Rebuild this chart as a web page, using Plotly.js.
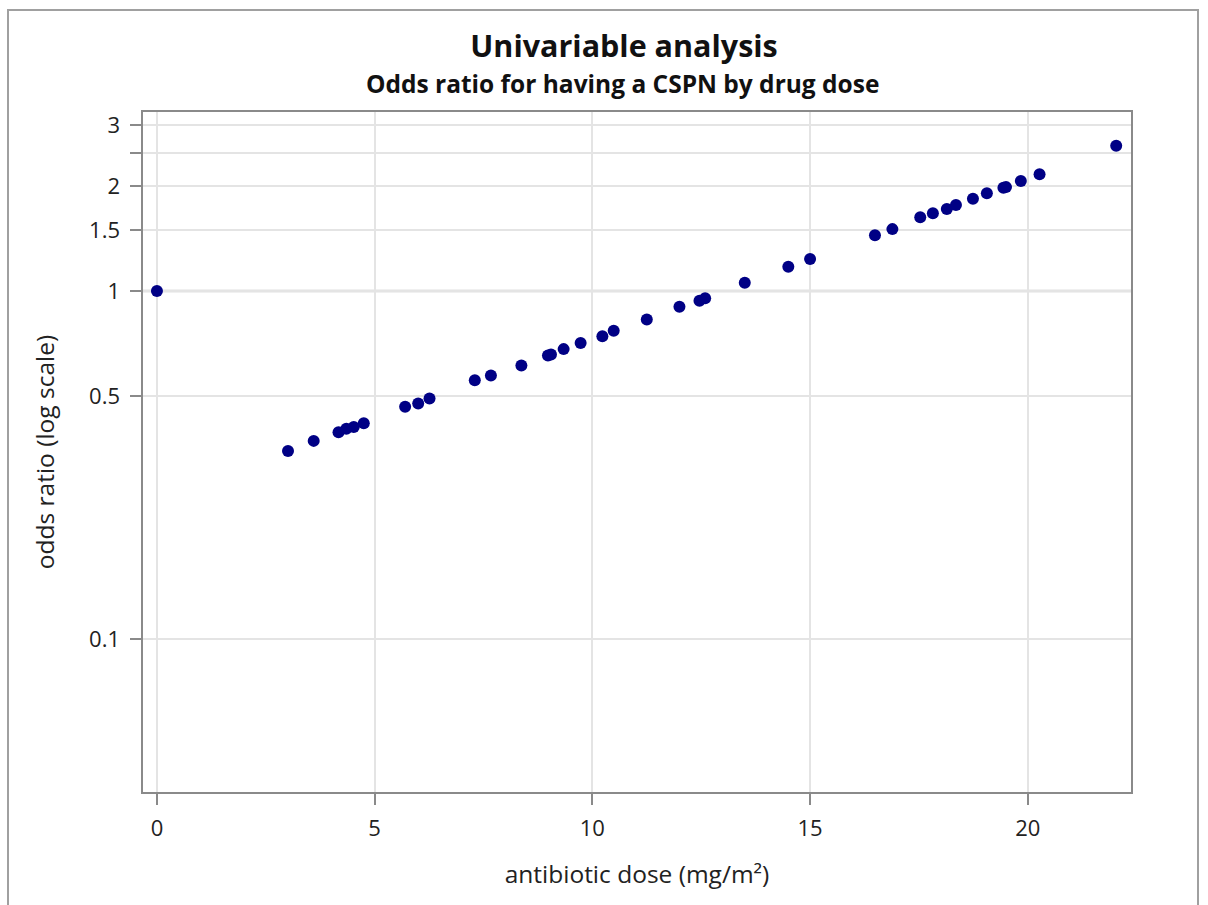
<!DOCTYPE html>
<html>
<head>
<meta charset="utf-8">
<script src="https://cdn.plot.ly/plotly-3.0.1.min.js"></script>
<style>
  html, body { margin: 0; padding: 0; background: #fff; }
  #wrap { position: relative; width: 1208px; height: 905px; overflow: hidden; }
  #chart { position: absolute; left: 0; top: 0; width: 1208px; height: 905px; }
  #frame { position: absolute; left: 7px; top: 9px; width: 1192px; height: 1000px;
           border: 2px solid #a0a0a0; pointer-events: none; box-sizing: border-box; }
</style>
</head>
<body>
<div id="wrap">
  <div id="chart"></div>
  <div id="frame"></div>
</div>
<script>
// Data
const dose = [0, 3.01, 3.60, 4.17, 4.35, 4.52, 4.75, 5.70, 6.00, 6.26, 7.30, 7.67, 8.37, 8.98, 9.05,
  9.34, 9.73, 10.23, 10.49, 11.25, 12.00, 12.46, 12.59, 13.50, 14.50, 15.00, 16.49, 16.89,
  17.53, 17.82, 18.14, 18.35, 18.74, 19.06, 19.44, 19.50, 19.84, 20.27, 22.03];
const oddsRatio = [1.0, 0.347, 0.371, 0.393, 0.402, 0.407, 0.417, 0.465, 0.475, 0.491, 0.554, 0.572, 0.611, 0.653, 0.657,
  0.681, 0.709, 0.742, 0.769, 0.829, 0.901, 0.938, 0.953, 1.057, 1.175, 1.236, 1.446, 1.507,
  1.629, 1.673, 1.721, 1.767, 1.843, 1.910, 1.982, 1.990, 2.072, 2.166, 2.618];
const xTicks = [0, 5, 10, 15, 20];
const yTicks = [0.1, 0.5, 1, 1.5, 2, 2.5, 3];
const yTickLabels = ['0.1', '0.5', '1', '1.5', '2', '', '3'];

const FONT = '"Open Sans", "Noto Sans", sans-serif';
const Y_RANGE = [-1.440, 0.5148];

const trace = {
  type: 'scatter',
  mode: 'markers',
  x: dose,
  y: oddsRatio,
  marker: { color: '#000085', size: 12, line: { width: 0 } },
  hoverinfo: 'x+y',
  showlegend: false
};
// empty helper trace so the label axis (y2) is created
const labelAxisTrace = {
  type: 'scatter', mode: 'markers', x: [], y: [], yaxis: 'y2',
  showlegend: false, hoverinfo: 'skip'
};

const layout = {
  width: 1208,
  height: 905,
  margin: { l: 143, r: 77, t: 112, b: 113 },
  paper_bgcolor: '#ffffff',
  plot_bgcolor: '#ffffff',
  font: { family: FONT, color: '#222222', size: 22 },
  title: {
    text: '<b>Univariable analysis</b>',
    font: { family: FONT, size: 30.5, color: '#111111' },
    x: 0.5166, xref: 'container', xanchor: 'center',
    y: 1, yref: 'container', yanchor: 'top', pad: { t: 36 }
  },
  annotations: [{
    text: '<b>Odds ratio for having a CSPN by drug dose</b>',
    font: { family: FONT, size: 24.5, color: '#111111' },
    xref: 'paper', yref: 'paper', x: 0.4858, y: 1.0412,
    xanchor: 'center', yanchor: 'middle', showarrow: false
  }],
  xaxis: {
    range: [-0.32, 22.37],
    tickvals: xTicks,
    ticktext: xTicks.map(String),
    ticks: 'outside', ticklen: 11, tickwidth: 2, tickcolor: '#8a8a8a',
    ticklabelstandoff: 5,
    tickfont: { family: FONT, size: 22, color: '#222' },
    showgrid: true, gridcolor: '#e4e4e4', gridwidth: 2,
    zeroline: false,
    showline: true, linecolor: '#8a8a8a', linewidth: 2, mirror: true,
    title: { text: 'antibiotic dose (mg/m²)', font: { family: FONT, size: 24.5, color: '#222' }, standoff: 24 }
  },
  yaxis: {
    type: 'log',
    range: Y_RANGE,
    tickvals: yTicks,
    ticks: 'outside', ticklen: 11, tickwidth: 2, tickcolor: '#8a8a8a',
    showticklabels: false,
    showgrid: true, gridcolor: '#e4e4e4', gridwidth: 2,
    zeroline: false,
    showline: true, linecolor: '#8a8a8a', linewidth: 2, mirror: true
  },
  yaxis2: {
    type: 'log',
    overlaying: 'y',
    side: 'left',
    range: Y_RANGE,
    tickvals: yTicks,
    ticktext: yTickLabels,
    ticks: '',
    ticklabelstandoff: 22,
    tickfont: { family: FONT, size: 22, color: '#222' },
    showgrid: false, zeroline: false, showline: false,
    title: { text: 'odds ratio (log scale)', font: { family: FONT, size: 24.5, color: '#222' }, standoff: 27 }
  },
  shapes: [{
    type: 'line', xref: 'paper', x0: 0, x1: 1, yref: 'y', y0: 1, y1: 1,
    line: { color: '#c2c2c2', width: 2.5 }, layer: 'below'
  }]
};

Plotly.newPlot('chart', [trace, labelAxisTrace], layout, { displayModeBar: false, staticPlot: true });
</script>
</body>
</html>
